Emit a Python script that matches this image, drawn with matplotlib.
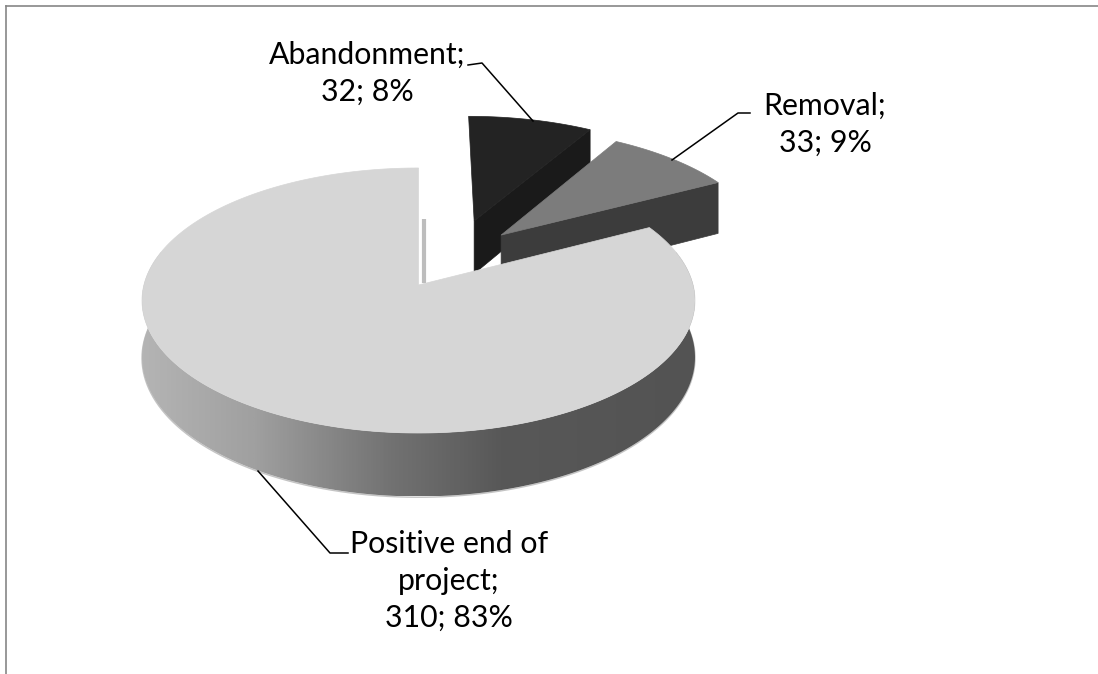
import numpy as np
import matplotlib
matplotlib.use("Agg")
import matplotlib.pyplot as plt
from matplotlib.patches import Polygon
from matplotlib.colors import LinearSegmentedColormap

categories = ["Abandonment", "Removal", "Positive end of\nproject"]
values = [32, 33, 310]
percents = [8, 9, 83]
top_colors = ["#232323", "#7c7c7c", "#d6d6d6"]
wall_colors = ["#1a1a1a", "#3c3c3c", None]
explode_offsets = [(0.215, -0.52), (0.315, -0.40), (0.0, 0.0)]

XC, YC, RX, RY, K, DEPTH = 418.5, 285.0, 274.6, 130.7, 0.117, 56.0


def project(u, v, drop=0.0):
    w = 1 - K * v
    return XC + RX * u / w, YC + RY * v / w + drop / w


def rim(theta, off, drop=0.0):
    return project(off[0] + np.sin(theta), off[1] - np.cos(theta), drop)


fig = plt.figure(figsize=(10.98, 6.74), dpi=100, facecolor="white")
ax = fig.add_axes([5.5 / 1098, 0, 1 - 5.5 / 1098, 1 - 5.5 / 674])
ax.set_xlim(5.5, 1098)
ax.set_ylim(674, 5.5)
ax.set_xticks([])
ax.set_yticks([])
for side in ("right", "bottom"):
    ax.spines[side].set_visible(False)
for side in ("top", "left"):
    ax.spines[side].set_color("#868686")
    ax.spines[side].set_linewidth(1.2)

edges = np.radians(np.cumsum([0] + values) / sum(values) * 360)

# exploded slices: cut face, then top
for i in range(2):
    off = explode_offsets[i]
    a0, a1 = edges[i], edges[i + 1]
    t = np.linspace(a0, a1, 60)
    ax0, ay0 = project(off[0], off[1])
    ax1, ay1 = project(off[0], off[1], DEPTH)
    ex0, ey0 = rim(a1, off)
    ex1, ey1 = rim(a1, off, DEPTH)
    ax.add_patch(Polygon([(ax0, ay0), (ex0, ey0), (ex1, ey1), (ax1, ay1)],
                         closed=True, fc=wall_colors[i], ec=wall_colors[i], lw=0.5, zorder=2 + i))
    x, y = rim(t, off)
    ax.add_patch(Polygon(np.r_[[[ax0, ay0]], np.c_[x, y]], closed=True,
                         fc=top_colors[i], ec=top_colors[i], lw=0.5, zorder=2 + i))

# main slice
off = explode_offsets[2]
a0, a1 = edges[2], edges[3]
t_wall = np.radians(np.linspace(75, 285, 240))
xt, yt = rim(t_wall, off)
xb, yb = rim(t_wall, off, DEPTH)
wall = Polygon(np.r_[np.c_[xt, yt], np.c_[xb, yb][::-1]], closed=True, fc="none", ec="none", zorder=5)
ax.add_patch(wall)
cmap = LinearSegmentedColormap.from_list(
    "wall",
    [(0.0, "#b4b4b4"), (0.2, "#a0a0a0"), (0.45, "#727272"), (0.65, "#585858"), (1.0, "#535353")],
)
img = ax.imshow(np.linspace(0, 1, 400)[None, :], cmap=cmap, vmin=0, vmax=1, aspect="auto",
                extent=(xb.min(), xb.max(), yb.max(), yt.min()), zorder=5)
img.set_clip_path(wall)
ax.set_xlim(5.5, 1098)
ax.set_ylim(674, 5.5)
ax.plot(xb, yb + 0.8, color="#c4c4c4", lw=1.0, zorder=4)

t = np.linspace(a0, a1, 400)
x, y = rim(t, off)
px, py = project(off[0], off[1])
ax.add_patch(Polygon(np.r_[[[px, py]], np.c_[x, y]], closed=True, fc=top_colors[2],
                     ec=top_colors[2], lw=0.5, zorder=6))

# faint shadow stripe beside the notch
sx, sy0 = project(0.015, off[1])
ax.plot([sx + 1.5, sx + 1.5], [sy0 - 2, sy0 - 66], color="#bdbdbd", lw=3, zorder=1.5, solid_capstyle="butt")

# labels
font = "Lato"
fs = 21.8
label_pos = [(367, 73), (825, 124), (449, 581)]
leaders = [
    [(468, 65), (482, 63), (533, 121)],
    [(750, 113), (738, 113), (672, 160)],
    [(348, 553), (330, 553), (258, 471)],
]
for name, val, pct, pos, lead in zip(categories, values, percents, label_pos, leaders):
    ax.text(pos[0], pos[1], f"{name};\n{val}; {pct}%", ha="center", va="center",
            fontsize=fs, family=font, color="black", linespacing=1.4, zorder=8)
    lx, ly = zip(*lead)
    ax.plot(lx, ly, color="black", lw=1.1, zorder=7)

fig.savefig("out.png", dpi=100, facecolor="white")
